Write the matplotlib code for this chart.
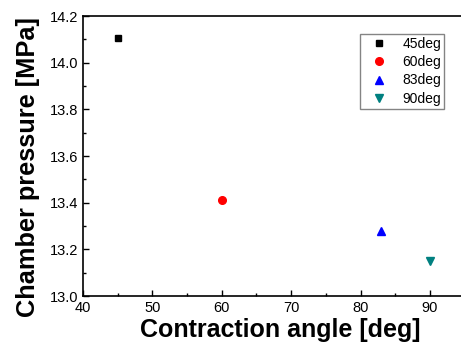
import matplotlib
matplotlib.use("Agg")
import matplotlib.pyplot as plt
from matplotlib.ticker import MultipleLocator

plt.rcParams['font.family'] = ['Liberation Sans', 'DejaVu Sans']

labels = ["45deg", "60deg", "83deg", "90deg"]
angles = [45, 60, 83, 90]
pressures = [14.105, 13.41, 13.28, 13.15]

# styles
markers = ["s", "o", "^", "v"]
colors = ["#000000", "#ff0000", "#0000ff", "#008080"]
msizes = [5, 5.5, 6, 6]

fig = plt.figure(figsize=(4.61, 3.5), dpi=100)
ax = fig.add_axes([0.180, 0.154, 0.84, 0.800])

for a, p, m, c, s, l in zip(angles, pressures, markers, colors, msizes, labels):
    ax.plot([a], [p], linestyle="none", marker=m, color=c, markersize=s, label=l)

ax.set_xlim(40, 95.8)
ax.set_ylim(13.0, 14.2)
ax.xaxis.set_major_locator(MultipleLocator(10))
ax.xaxis.set_minor_locator(MultipleLocator(5))
ax.yaxis.set_major_locator(MultipleLocator(0.2))
ax.yaxis.set_minor_locator(MultipleLocator(0.1))
ax.yaxis.set_major_formatter(plt.FormatStrFormatter('%.1f'))
ax.tick_params(which='both', direction='in', labelsize=10.5, colors='black')
ax.tick_params(which='major', length=4, width=1)
ax.tick_params(which='minor', length=2, width=1)
for sp in ax.spines.values():
    sp.set_linewidth(1.2)

ax.set_xlabel("Contraction angle [deg]", fontsize=18, fontweight='bold')
ax.set_ylabel("Chamber pressure [MPa]", fontsize=18.3, fontweight='bold')
ax.xaxis.set_label_coords(0.51, -0.08)
ax.yaxis.set_label_coords(-0.11, 0.46)

leg = ax.legend(loc='upper left', bbox_to_anchor=(0.697, 0.962), frameon=True,
                fancybox=False, edgecolor='#666666', fontsize=10,
                handletextpad=0.6, borderpad=0.25, labelspacing=0.3, handlelength=2.2)
leg.get_frame().set_linewidth(1.0)

fig.savefig("out.png", dpi=100)
